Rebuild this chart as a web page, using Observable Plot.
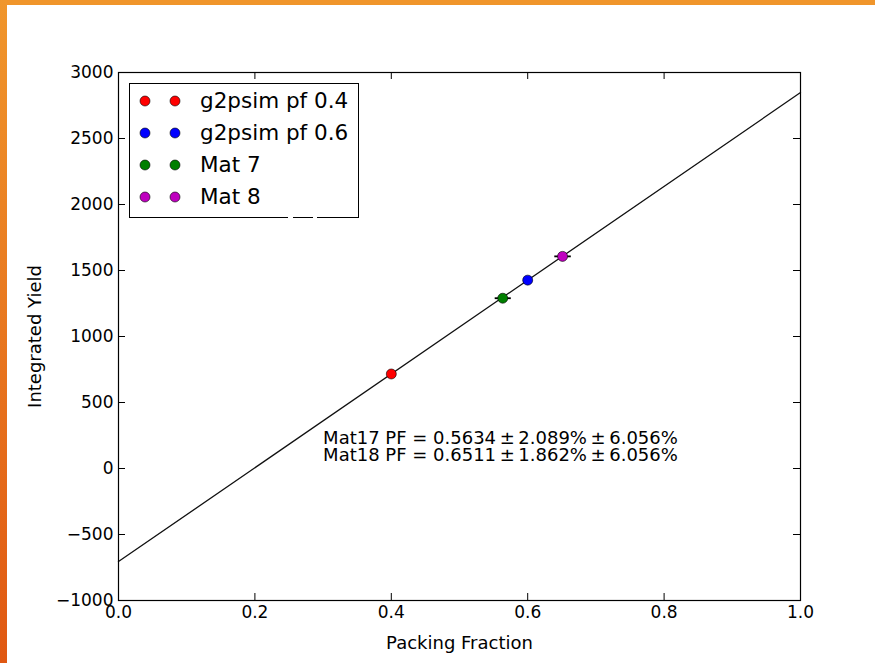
<!DOCTYPE html>
<html>
<head>
<meta charset="utf-8">
<script src="https://cdn.jsdelivr.net/npm/d3@7"></script>
<script src="https://cdn.jsdelivr.net/npm/@observablehq/plot@0.6"></script>
<style>
  html, body { margin: 0; padding: 0; background: #fff; }
  #wrap { position: relative; width: 875px; height: 663px; overflow: hidden; font-family: "DejaVu Sans", sans-serif; }
  #topbar { position: absolute; left: 0; top: 0; width: 875px; height: 5px; background: #f0952b; }
  #leftbar { position: absolute; left: 0; top: 0; width: 7px; height: 663px; background: linear-gradient(#f0962c, #e05812); }
  #chart { position: absolute; left: 0; top: 0; }
  #legend { position: absolute; left: 129px; top: 83px; width: 230px; height: 135px; border: 1px solid #000; background: #fff; box-sizing: border-box; }
  .row { position: absolute; left: 0; height: 32px; }
  .row svg { position: absolute; left: 0; top: 0; }
  .row span { position: absolute; left: 70px; font-size: 21.5px; white-space: nowrap; color: #000; line-height: 32px; top: 0; }
  .gap { position: absolute; top: 215px; height: 3px; background: #fff; }
</style>
</head>
<body>
<div id="wrap">
  <div id="chart"></div>
  <div id="legend"></div>
  <div class="gap" style="left:288px;width:5px"></div>
  <div class="gap" style="left:313px;width:4px"></div>
  <div id="topbar"></div>
  <div id="leftbar"></div>
</div>
<script>
// ---- data ----
const seriesNames = ["g2psim pf 0.4", "g2psim pf 0.6", "Mat 7", "Mat 8"];
const seriesColors = ["#ff0000", "#0000ff", "#007f00", "#bf00bf"];
const packingFraction = [0.4, 0.6, 0.5634, 0.6511];
const integratedYield = [716, 1427, 1290, 1607];
const pfError = [0, 0, 0.0118, 0.0121];
const fitX = [0, 1];
const fitY = [-705, 2848];
const xTicks = [0, 0.2, 0.4, 0.6, 0.8, 1.0];
const yTicks = [-1000, -500, 0, 500, 1000, 1500, 2000, 2500, 3000];
const noteLines = ["Mat17 PF = 0.5634\u2009\u00b1\u20092.089%\u2009\u00b1\u20096.056%",
                   "Mat18 PF = 0.6511\u2009\u00b1\u20091.862%\u2009\u00b1\u20096.056%"];
const noteX = [0.3, 0.3];
const noteY = [226, 98];

// ---- layout ----
const W = 875, H = 663;
const mL = 118, mR = 75, mT = 72, mB = 63;
const innerW = W - mL - mR, innerH = H - mT - mB;
const tickLen = 7;

const points = seriesNames.map((name, i) => ({
  name, color: seriesColors[i], x: packingFraction[i], y: integratedYield[i], e: pfError[i]
}));
const fit = fitX.map((x, i) => ({x, y: fitY[i]}));
const notes = noteLines.map((t, i) => ({t, x: noteX[i], y: noteY[i]}));
const yFmt = d => d < 0 ? "\u2212" + Math.abs(d) : String(d);

const chart = Plot.plot({
  width: W, height: H,
  marginLeft: mL, marginRight: mR, marginTop: mT, marginBottom: mB,
  style: {fontFamily: "DejaVu Sans, sans-serif", fontSize: "17px", color: "#000", background: "transparent", overflow: "visible"},
  x: {domain: [0, 1]},
  y: {domain: [-1000, 3000]},
  marks: [
    Plot.axisX({ticks: xTicks, tickFormat: d3.format(".1f"), tickSize: 0, tickPadding: 5, fontSize: 17, label: null}),
    Plot.axisY({ticks: yTicks, tickFormat: yFmt, tickSize: 0, tickPadding: 5, fontSize: 17, label: null}),
    Plot.ruleX(xTicks, {x: d => d, insetTop: innerH - tickLen, stroke: "#000"}),
    Plot.ruleX(xTicks, {x: d => d, insetBottom: innerH - tickLen, stroke: "#000"}),
    Plot.ruleY(yTicks, {y: d => d, insetRight: innerW - tickLen, stroke: "#000"}),
    Plot.ruleY(yTicks, {y: d => d, insetLeft: innerW - tickLen, stroke: "#000"}),
    Plot.line(fit, {x: "x", y: "y", stroke: "#111", strokeWidth: 1.3}),
    Plot.link(points.filter(d => d.e > 0), {x1: d => d.x - d.e, x2: d => d.x + d.e, y1: "y", y2: "y", stroke: "#000", strokeWidth: 1.8}),
    Plot.dot(points, {x: "x", y: "y", r: 5, fill: "color", stroke: "#000", strokeWidth: 0.6}),
    Plot.text(notes, {x: "x", y: "y", text: "t", textAnchor: "start", fontSize: 18, fill: "#000", lineAnchor: "middle"}),
    Plot.text(["Packing Fraction"], {frameAnchor: "bottom", textAnchor: "middle", dy: 48, fontSize: 18, fill: "#000"}),
    Plot.text(["Integrated Yield"], {frameAnchor: "left", textAnchor: "middle", dx: -83, rotate: -90, fontSize: 18, fill: "#000"}),
    Plot.frame({stroke: "#000", strokeWidth: 1.2})
  ]
});
document.getElementById("chart").appendChild(chart);

// ---- legend ----
const legend = document.getElementById("legend");
points.forEach((d, i) => {
  const row = document.createElement("div");
  row.className = "row";
  row.style.top = (1 + i * 32) + "px";
  row.style.width = "228px";
  row.innerHTML = `<svg width="60" height="32"><circle cx="15" cy="16" r="5" fill="${d.color}" stroke="#000" stroke-width="0.6"/><circle cx="45" cy="16" r="5" fill="${d.color}" stroke="#000" stroke-width="0.6"/></svg><span>${d.name}</span>`;
  legend.appendChild(row);
});
</script>
</body>
</html>
